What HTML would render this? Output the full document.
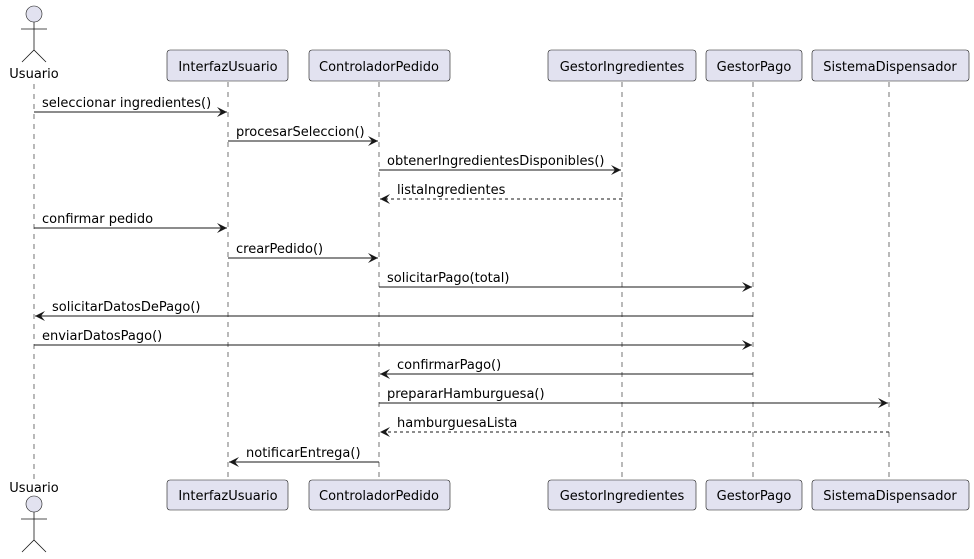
<!DOCTYPE html>
<html><head><meta charset="utf-8"><style>body{margin:0;background:#fff}svg{display:block}text{font-family:"DejaVu Sans","Liberation Sans",sans-serif;font-size:13px;fill:#000}</style></head><body>
<svg width="974" height="559" viewBox="0 0 974 559" xmlns="http://www.w3.org/2000/svg">
<defs>
<marker id="a" viewBox="0 0 10 10" refX="10" refY="5" markerWidth="12" markerHeight="10" markerUnits="userSpaceOnUse" orient="auto"><path d="M0,0 L10,5 L0,10 L4,5 Z" fill="#181818"/></marker>
<marker id="o" viewBox="0 0 10 10" refX="10" refY="5" markerWidth="12" markerHeight="10" markerUnits="userSpaceOnUse" orient="auto"><path d="M0,0 L10,5 L0,10 L4,5 Z" fill="#181818"/></marker>
</defs>
<g stroke="#181818" stroke-width="0.6" stroke-dasharray="5,5" fill="none">
<line x1="34" y1="84" x2="34" y2="480"/>
<line x1="228" y1="82" x2="228" y2="480"/>
<line x1="379" y1="82" x2="379" y2="480"/>
<line x1="622" y1="82" x2="622" y2="480"/>
<line x1="753" y1="82" x2="753" y2="480"/>
<line x1="889" y1="82" x2="889" y2="480"/>
</g>
<g fill="#E2E2F0" stroke="#181818" stroke-width="0.6">
<rect x="167" y="50" width="121" height="31" rx="3"/>
<rect x="309" y="50" width="141" height="31" rx="3"/>
<rect x="548" y="50" width="148" height="31" rx="3"/>
<rect x="706" y="50" width="96" height="31" rx="3"/>
<rect x="812" y="50" width="157" height="31" rx="3"/>
<rect x="167" y="480" width="121" height="30" rx="3"/>
<rect x="309" y="480" width="141" height="30" rx="3"/>
<rect x="548" y="480" width="148" height="30" rx="3"/>
<rect x="706" y="480" width="96" height="30" rx="3"/>
<rect x="812" y="480" width="157" height="30" rx="3"/>
<circle cx="34" cy="14" r="8"/>
<circle cx="34" cy="504" r="8"/>
</g>
<g stroke="#181818" stroke-width="0.8" fill="none">
<path d="M34,22 V50 M21,29 H47 M22,62 L34,50 L46,62"/>
<path d="M34,512 V540 M21,519 H47 M22,552 L34,540 L46,552"/>
</g>
<g text-anchor="middle">
<text x="34" y="78">Usuario</text>
<text x="34" y="492">Usuario</text>
<text x="228" y="71">InterfazUsuario</text>
<text x="379" y="71">ControladorPedido</text>
<text x="622" y="71">GestorIngredientes</text>
<text x="754" y="71">GestorPago</text>
<text x="890" y="71">SistemaDispensador</text>
<text x="228" y="500">InterfazUsuario</text>
<text x="379" y="500">ControladorPedido</text>
<text x="622" y="500">GestorIngredientes</text>
<text x="754" y="500">GestorPago</text>
<text x="890" y="500">SistemaDispensador</text>
</g>
<g stroke="#181818" stroke-width="1" fill="none">
<line x1="34" y1="112" x2="227" y2="112" marker-end="url(#a)"/>
<line x1="228" y1="141" x2="378" y2="141" marker-end="url(#a)"/>
<line x1="379" y1="170" x2="621" y2="170" marker-end="url(#a)"/>
<line x1="622" y1="199" x2="380" y2="199" stroke-dasharray="3,3" marker-end="url(#o)"/>
<line x1="34" y1="228" x2="227" y2="228" marker-end="url(#a)"/>
<line x1="228" y1="258" x2="378" y2="258" marker-end="url(#a)"/>
<line x1="379" y1="287" x2="752" y2="287" marker-end="url(#a)"/>
<line x1="753" y1="316" x2="35" y2="316" marker-end="url(#a)"/>
<line x1="34" y1="345" x2="752" y2="345" marker-end="url(#a)"/>
<line x1="753" y1="374" x2="380" y2="374" marker-end="url(#a)"/>
<line x1="379" y1="403" x2="888" y2="403" marker-end="url(#a)"/>
<line x1="889" y1="432" x2="380" y2="432" stroke-dasharray="3,3" marker-end="url(#o)"/>
<line x1="379" y1="462" x2="229" y2="462" marker-end="url(#a)"/>
</g>
<g>
<text x="42" y="107">seleccionar ingredientes()</text>
<text x="236" y="136">procesarSeleccion()</text>
<text x="387" y="165">obtenerIngredientesDisponibles()</text>
<text x="397" y="194">listaIngredientes</text>
<text x="42" y="223">confirmar pedido</text>
<text x="236" y="253">crearPedido()</text>
<text x="387" y="282">solicitarPago(total)</text>
<text x="52" y="311">solicitarDatosDePago()</text>
<text x="42" y="340">enviarDatosPago()</text>
<text x="397" y="369">confirmarPago()</text>
<text x="387" y="398">prepararHamburguesa()</text>
<text x="397" y="427">hamburguesaLista</text>
<text x="246" y="457">notificarEntrega()</text>
</g>
</svg>
</body></html>
